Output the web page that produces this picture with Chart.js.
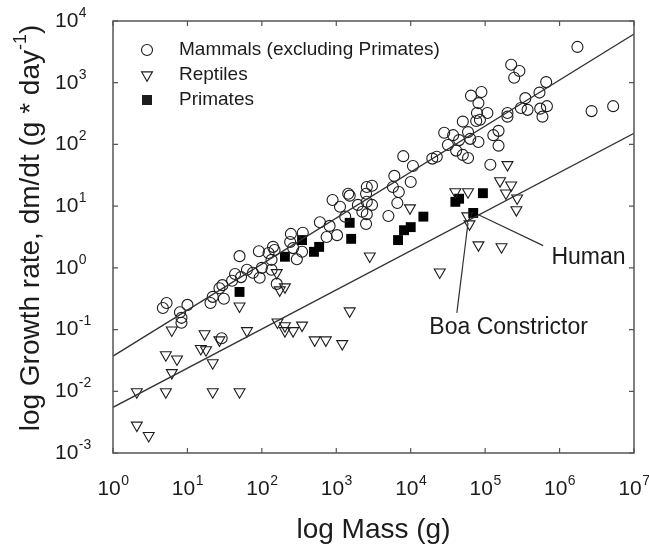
<!DOCTYPE html>
<html>
<head>
<meta charset="utf-8">
<script src="https://cdn.jsdelivr.net/npm/chart.js@4.4.1/dist/chart.umd.min.js"></script>
<style>
  html, body { margin: 0; padding: 0; background: #fff; }
  #wrap { width: 649px; height: 547px; position: relative; }
</style>
</head>
<body>
<div id="wrap"><canvas id="chart"></canvas></div>
<script>
// values are log10 of mass (g) and log10 of growth rate (g/day)
const mammalLogMass = [0.67, 0.72, 0.90, 0.92, 0.92, 1.00, 1.31, 1.34, 1.49, 1.43, 1.47, 1.60, 1.64, 1.70, 1.72, 1.80, 1.88, 1.97, 2.00, 1.96,
  2.09, 2.15, 2.17, 2.13, 2.13, 2.20, 2.39, 2.38, 2.55, 2.54, 2.47, 2.42, 2.78, 2.91, 2.87, 3.01, 2.95, 3.05, 3.12, 3.16,
  3.18, 3.29, 3.41, 3.48, 3.40, 3.41, 3.48, 3.35, 3.41, 3.40, 3.70, 3.76, 3.82, 3.78, 4.00, 3.84, 3.90, 4.03, 4.29, 4.35,
  4.45, 4.57, 4.50, 4.61, 4.70, 4.77, 4.70, 4.77, 4.65, 4.80, 4.91, 4.95, 4.81, 4.91, 4.89, 5.03, 4.88, 4.93, 5.11, 5.18,
  5.18, 5.07, 5.30, 5.30, 5.35, 5.46, 5.39, 5.82, 5.73, 5.54, 5.48, 5.57, 5.74, 5.83, 5.77, 6.24, 6.43, 6.72, 1.46];
const mammalLogRate = [-0.65, -0.57, -0.72, -0.81, -0.89, -0.60, -0.57, -0.47, -0.50, -0.33, -0.28, -0.21, -0.10, 0.19, -0.15, -0.03, -0.08, -0.16, 0.00, 0.27,
  0.24, 0.34, 0.29, 0.13, -0.03, -0.26, 0.55, 0.42, 0.57, 0.26, 0.14, 0.32, 0.74, 0.68, 0.50, 0.53, 1.10, 0.99, 0.83, 1.20,
  1.17, 1.02, 1.31, 1.33, 1.20, 1.07, 1.02, 0.91, 0.87, 0.71, 0.84, 1.31, 1.05, 1.49, 1.39, 1.23, 1.81, 1.65, 1.77, 1.80,
  2.19, 2.15, 1.99, 1.90, 1.83, 1.78, 2.37, 2.20, 2.07, 2.09, 2.04, 2.85, 2.79, 2.67, 2.51, 2.51, 2.38, 2.40, 2.15, 2.22,
  1.98, 1.67, 2.51, 2.45, 3.29, 3.19, 3.08, 3.01, 2.84, 2.75, 2.59, 2.56, 2.58, 2.62, 2.45, 3.58, 2.54, 2.62, -1.14];

const reptileLogMass = [0.32, 0.48, 0.32, 0.71, 1.34, 1.70, 0.79, 0.71, 0.86, 1.18, 1.25, 1.34, 0.79, 1.23, 1.43, 1.80, 2.21, 2.31, 2.31, 2.42,
  2.54, 2.71, 2.86, 3.08, 3.18, 1.70, 3.45, 3.99, 2.24, 2.31, 2.20, 4.60, 4.77, 5.30, 5.20, 5.35, 5.28, 5.43, 5.42, 4.76,
  4.79, 4.91, 5.22, 4.39];
const reptileLogRate = [-2.55, -2.72, -2.01, -2.01, -2.01, -2.01, -1.70, -1.41, -1.48, -1.31, -1.33, -1.54, -1.01, -1.07, -1.17, -1.02, -0.88, -0.94, -1.02, -1.02,
  -0.93, -1.17, -1.17, -1.23, -0.70, -0.62, 0.19, 0.97, -0.36, -0.31, -0.08, 1.23, 1.23, 1.67, 1.41, 1.34, 1.21, 1.13, 0.94, 0.84,
  0.71, 0.37, 0.34, -0.07];

const primateLogMass = [1.70, 2.31, 2.54, 2.70, 2.77, 3.18, 3.20, 3.83, 3.91, 4.00, 4.17, 4.60, 4.65, 4.97, 4.84];
const primateLogRate = [-0.39, 0.18, 0.45, 0.26, 0.34, 0.73, 0.47, 0.45, 0.61, 0.66, 0.83, 1.07, 1.12, 1.21, 0.89];

// fitted lines, end points at log mass 0 and 7
const fitLogMass = [0, 7];
const mammalFitLogRate = [-1.43, 3.79];
const reptileFitLogRate = [-2.26, 2.18];

const xTickExps = [0, 1, 2, 3, 4, 5, 6, 7];
const yTickExps = [-3, -2, -1, 0, 1, 2, 3, 4];

const legendLabels = ['Mammals (excluding Primates)', 'Reptiles', 'Primates'];

// annotation text and pointer lines, in log data coordinates
const notes = [
  { text: 'Human', at: [5.89, 0.16], from: [5.78, 0.36], to: [4.91, 0.86] },
  { text: 'Boa Constrictor', at: [4.25, -0.97], from: [4.62, -0.73], to: [4.77, 0.73] }
];

const FONT = '"Liberation Sans", Arial, sans-serif';
const INK = '#1c1c1c';

function toPoints(lx, ly) {
  return lx.map((v, i) => ({ x: Math.pow(10, v), y: Math.pow(10, ly[i]) }));
}

function drawPower(ctx, exp, x, y, align, size) {
  const supSize = Math.round(size * 0.66);
  ctx.font = `${size}px ${FONT}`;
  const wBase = ctx.measureText('10').width;
  ctx.font = `${supSize}px ${FONT}`;
  const wExp = ctx.measureText(String(exp)).width;
  let x0 = x;
  if (align === 'center') x0 = x - (wBase + wExp) / 2;
  ctx.textAlign = 'left';
  ctx.textBaseline = 'middle';
  ctx.font = `${size}px ${FONT}`;
  ctx.fillText('10', x0, y);
  ctx.font = `${supSize}px ${FONT}`;
  ctx.fillText(String(exp), x0 + wBase + 0.5, y - size * 0.38);
}

function markerPath(ctx, kind, x, y) {
  ctx.beginPath();
  if (kind === 0) {
    ctx.arc(x, y, 5.5, 0, Math.PI * 2);
    ctx.stroke();
  } else if (kind === 1) {
    const r = 6.3;
    ctx.moveTo(x, y + r);
    ctx.lineTo(x - r * 0.866, y - r / 2);
    ctx.lineTo(x + r * 0.866, y - r / 2);
    ctx.closePath();
    ctx.stroke();
  } else {
    ctx.fillRect(x - 5, y - 5, 10, 10);
  }
}

const decorations = {
  id: 'decorations',
  afterDraw(chart) {
    const { ctx, chartArea: a, scales } = chart;
    const xs = scales.x, ys = scales.y;
    ctx.save();

    // frame
    ctx.strokeStyle = '#555';
    ctx.lineWidth = 1.5;
    ctx.strokeRect(a.left, a.top, a.right - a.left, a.bottom - a.top);

    // inward ticks on all four sides
    ctx.lineWidth = 1.2;
    ctx.beginPath();
    xTickExps.forEach(e => {
      const px = xs.getPixelForValue(Math.pow(10, e));
      ctx.moveTo(px, a.bottom); ctx.lineTo(px, a.bottom - 5);
      ctx.moveTo(px, a.top); ctx.lineTo(px, a.top + 5);
    });
    yTickExps.forEach(e => {
      const py = ys.getPixelForValue(Math.pow(10, e));
      ctx.moveTo(a.left, py); ctx.lineTo(a.left + 5, py);
      ctx.moveTo(a.right, py); ctx.lineTo(a.right - 5, py);
    });
    ctx.stroke();

    // tick labels
    ctx.fillStyle = INK;
    xTickExps.forEach(e => {
      drawPower(ctx, e, xs.getPixelForValue(Math.pow(10, e)), a.bottom + 36, 'center', 21);
    });
    yTickExps.forEach(e => {
      drawPower(ctx, e, 55, ys.getPixelForValue(Math.pow(10, e)), 'left', 21);
    });

    // axis titles
    ctx.font = `28px ${FONT}`;
    ctx.textAlign = 'center';
    ctx.textBaseline = 'middle';
    ctx.fillText('log Mass (g)', (a.left + a.right) / 2, 530);

    ctx.save();
    ctx.translate(31, 228);
    ctx.rotate(-Math.PI / 2);
    const t1 = 'log Growth rate, dm/dt (g * day', t2 = '-1', t3 = ')';
    ctx.font = `28px ${FONT}`;
    const w1 = ctx.measureText(t1).width, w3 = ctx.measureText(t3).width;
    ctx.font = `18px ${FONT}`;
    const w2 = ctx.measureText(t2).width;
    let sx = -(w1 + w2 + w3) / 2;
    ctx.textAlign = 'left';
    ctx.font = `28px ${FONT}`;
    ctx.fillText(t1, sx, 0);
    ctx.font = `18px ${FONT}`;
    ctx.fillText(t2, sx + w1, -10);
    ctx.font = `28px ${FONT}`;
    ctx.fillText(t3, sx + w1 + w2, 0);
    ctx.restore();

    // legend
    ctx.strokeStyle = INK;
    ctx.fillStyle = INK;
    ctx.lineWidth = 1.1;
    legendLabels.forEach((label, i) => {
      const y = a.top + 29 + i * 25;
      markerPath(ctx, i, a.left + 34, y);
      ctx.font = `19px ${FONT}`;
      ctx.textAlign = 'left';
      ctx.textBaseline = 'middle';
      ctx.fillText(label, a.left + 66, y);
    });

    // annotations
    ctx.strokeStyle = '#333';
    ctx.lineWidth = 1.2;
    notes.forEach(n => {
      const px = v => xs.getPixelForValue(Math.pow(10, v[0]));
      const py = v => ys.getPixelForValue(Math.pow(10, v[1]));
      ctx.beginPath();
      ctx.moveTo(px(n.from), py(n.from));
      ctx.lineTo(px(n.to), py(n.to));
      ctx.stroke();
      ctx.font = `23px ${FONT}`;
      ctx.textAlign = 'left';
      ctx.textBaseline = 'middle';
      ctx.fillText(n.text, px(n.at), py(n.at));
    });

    ctx.restore();
  }
};

const lineStyle = {
  type: 'line',
  borderColor: '#333',
  borderWidth: 1.3,
  pointRadius: 0,
  fill: false,
  tension: 0
};

new Chart(document.getElementById('chart'), {
  type: 'scatter',
  data: {
    datasets: [
      { ...lineStyle, label: 'mammal fit', data: toPoints(fitLogMass, mammalFitLogRate) },
      { ...lineStyle, label: 'reptile fit', data: toPoints(fitLogMass, reptileFitLogRate) },
      {
        label: legendLabels[0],
        data: toPoints(mammalLogMass, mammalLogRate),
        pointStyle: 'circle',
        pointRadius: 5.5,
        borderWidth: 1.1,
        borderColor: INK,
        backgroundColor: 'rgba(255,255,255,0)'
      },
      {
        label: legendLabels[1],
        data: toPoints(reptileLogMass, reptileLogRate),
        pointStyle: 'triangle',
        rotation: 180,
        pointRadius: 6.3,
        borderWidth: 1.1,
        borderColor: INK,
        backgroundColor: 'rgba(255,255,255,0)'
      },
      {
        label: legendLabels[2],
        data: toPoints(primateLogMass, primateLogRate),
        pointStyle: 'rect',
        pointRadius: 7,
        borderWidth: 0,
        borderColor: '#000',
        backgroundColor: '#000'
      }
    ]
  },
  options: {
    responsive: true,
    maintainAspectRatio: false,
    animation: false,
    layout: { padding: { left: 113, right: 15, top: 21, bottom: 94 } },
    plugins: { legend: { display: false }, tooltip: { enabled: false } },
    scales: {
      x: { type: 'logarithmic', display: false, min: 1, max: 1e7 },
      y: { type: 'logarithmic', display: false, min: 1e-3, max: 1e4 }
    }
  },
  plugins: [decorations]
});
</script>
</body>
</html>
